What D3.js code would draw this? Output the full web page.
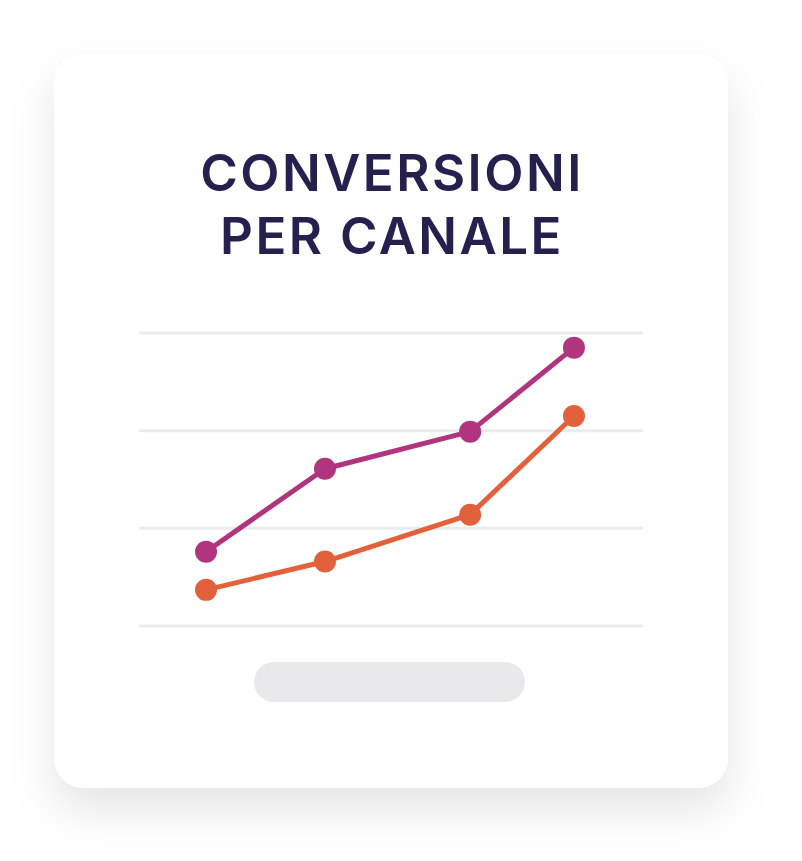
<!DOCTYPE html>
<html>
<head>
<meta charset="utf-8">
<script src="https://cdn.jsdelivr.net/npm/d3@7"></script>
<style>
  html, body { margin: 0; padding: 0; background: #ffffff; }
  svg { display: block; }
</style>
</head>
<body>
<svg id="chart" width="802" height="861"></svg>
<script>
// title lines
var titleLines = ["CONVERSIONI", "PER CANALE"];

// x positions of the four points (uneven spacing)
var xValues = [1.33, 3.69, 6.57, 8.63];
var yTicks = [0, 100, 200, 300];

var seriesPurple = [76, 161, 199, 285];
var seriesOrange = [37, 66, 114, 215];

var series = [
	{ name: "purple", color: "#b0357e", values: seriesPurple },
	{ name: "orange", color: "#e2613b", values: seriesOrange }
];

var svg = d3.select("#chart");

// Card shadow.
var defs = svg.append("defs");
var shadow = defs.append("filter")
	.attr("id", "cardShadow")
	.attr("x", "-20%").attr("y", "-20%")
	.attr("width", "140%").attr("height", "140%");
shadow.append("feDropShadow")
	.attr("dx", 0).attr("dy", 22)
	.attr("stdDeviation", 22)
	.attr("flood-color", "#000")
	.attr("flood-opacity", 0.1);

// The card.
svg.append("rect")
	.attr("x", 54).attr("y", 54)
	.attr("width", 674).attr("height", 734)
	.attr("rx", 30).attr("ry", 30)
	.style("fill", "#ffffff")
	.attr("filter", "url(#cardShadow)");

// Title.
var title = svg.append("text")
	.attr("text-anchor", "middle")
	.style("font-family", "Inter, 'Open Sans', sans-serif")
	.style("font-weight", 600)
	.style("font-size", "51px")
	.style("letter-spacing", "2.5px")
	.style("fill", "#24214f");
title.selectAll("tspan")
	.data(titleLines)
	.enter().append("tspan")
	.attr("x", 392)
	.attr("y", function(d, i) { return 191 + i * 63; })
	.text(function(d) { return d; });

// Scales.
var x = d3.scaleLinear().domain([0, 10]).range([139, 643]);
var y = d3.scaleLinear().domain([0, 300]).range([626, 333]);

// Gridlines.
svg.append("g")
	.selectAll("line")
	.data(yTicks)
	.enter().append("line")
	.attr("x1", x(0)).attr("x2", x(10))
	.attr("y1", function(d) { return y(d); })
	.attr("y2", function(d) { return y(d); })
	.style("stroke", "#ebebee")
	.style("stroke-width", 3);

// Lines and dots.
var line = d3.line()
	.x(function(d, i) { return x(xValues[i]); })
	.y(function(d) { return y(d); });

var groups = svg.selectAll("g.series")
	.data(series)
	.enter().append("g")
	.attr("class", "series");

groups.append("path")
	.attr("d", function(s) { return line(s.values); })
	.style("fill", "none")
	.style("stroke", function(s) { return s.color; })
	.style("stroke-width", 5)
	.style("stroke-linejoin", "round");

groups.selectAll("circle")
	.data(function(s) { return s.values.map(function(v, i) { return { v: v, i: i, color: s.color }; }); })
	.enter().append("circle")
	.attr("cx", function(d) { return x(xValues[d.i]); })
	.attr("cy", function(d) { return y(d.v); })
	.attr("r", 11)
	.style("fill", function(d) { return d.color; });

// Placeholder pill under the chart.
svg.append("rect")
	.attr("x", 254).attr("y", 662)
	.attr("width", 271).attr("height", 40)
	.attr("rx", 20).attr("ry", 20)
	.style("fill", "#e9e9ec");
</script>
</body>
</html>
